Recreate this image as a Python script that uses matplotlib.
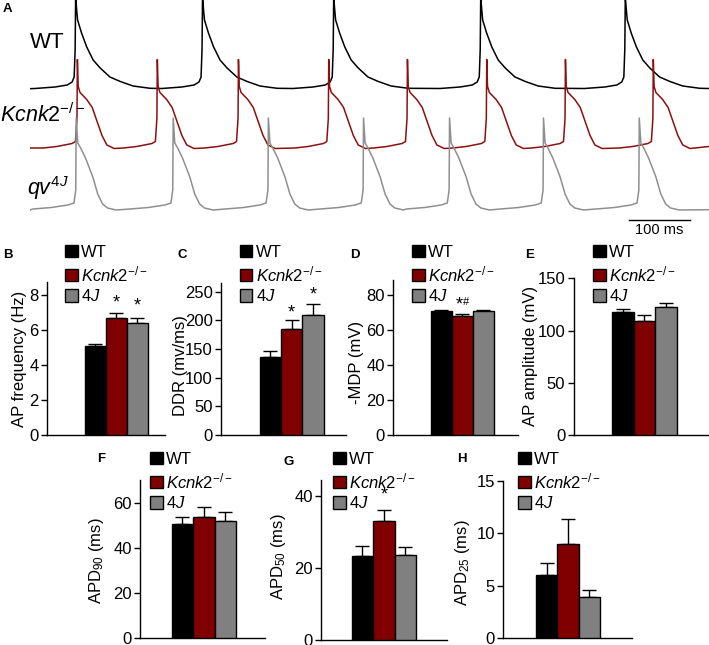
import numpy as np
import matplotlib.pyplot as plt
from matplotlib.patches import Patch

plt.rcParams['font.family'] = ['Liberation Sans', 'DejaVu Sans']
plt.rcParams['mathtext.fontset'] = 'custom'
plt.rcParams['mathtext.rm'] = 'Liberation Sans'
plt.rcParams['mathtext.it'] = 'Liberation Sans:italic'
plt.rcParams['mathtext.bf'] = 'Liberation Sans:bold'

# ---------------- A: action potential traces ----------------
# time in ms, voltage in mV above the maximum diastolic potential
trace_len = 1113
wt_spikes = [74, 282, 497, 738, 975]
ko_spikes = [77, 208, 341, 489, 618, 748, 877, 1021]
qv_spikes = [75, 234, 390, 546, 687, 841, 998]

wt_beat_t = [-66, -33, -13, -5, -1.6, 0, 0.8, 2.5, 4, 10.5, 19, 29.5, 41, 57, 74, 95, 123]
wt_beat_v = [0.5, 2, 4, 7, 12, 40, 92, 79, 69, 56, 42, 29, 21, 12, 7.5, 3, 0.7]
ko_beat_t = [-55, -33, -8, -2.5, 0, 0.7, 2, 5, 16, 25, 33, 41, 49, 61]
ko_beat_v = [0.5, 2, 5, 7, 30, 89, 62, 56, 49, 41, 27, 13, 3.5, 0]
qv_beat_t = [-70, -40, -13, -3, 0, 0.7, 3.3, 8, 16, 28, 36, 44, 52, 66]
qv_beat_v = [1, 2.5, 5, 7, 20, 92, 67, 62, 52, 33, 16, 6, 2, 0]

wt_ends = [0.3, 0.5]
ko_ends = [0.5, 2]
qv_ends = [0, 0.3]

# ---------------- B-H: summary bars ----------------
groups = ['WT', r'$\mathit{Kcnk2}^{\mathit{-/-}}$', r'$\mathit{4J}$']
colors = ['black', '#800000', '#808080']

ap_freq = [5.1, 6.7, 6.4]
ap_freq_err = [0.12, 0.25, 0.3]
ddr = [136, 185, 210]
ddr_err = [10, 15, 19]
mdp = [70.9, 68.0, 70.8]
mdp_err = [0.8, 1.3, 0.6]
ap_amp = [117.5, 109, 123]
ap_amp_err = [3.2, 6, 3.4]
apd90 = [50.4, 53.5, 51.6]
apd90_err = [3.1, 4.5, 4.1]
apd50 = [23.3, 33.0, 23.7]
apd50_err = [2.9, 3.3, 2.1]
apd25 = [6.0, 9.0, 3.9]
apd25_err = [1.2, 2.35, 0.65]

W, H = 709, 645
fig = plt.figure(figsize=(W / 100, H / 100), dpi=100)


def fx(x):
    return x / W


def fy(y):
    return 1 - y / H


def axes_px(x0, y0, x1, y1):
    return fig.add_axes([fx(x0), fy(y1), (x1 - x0) / W, (y1 - y0) / H])


def build_trace(spikes, bt, bv, ends):
    t = [0.0]
    v = [ends[0]]
    for s in spikes:
        t += [s + dt for dt in bt]
        v += bv
    t.append(trace_len)
    v.append(ends[1])
    return np.array(t), np.array(v)


axA = axes_px(30, 0, 709, 235)
axA.set_xlim(0, trace_len)
axA.set_ylim(-235, 0)
axA.axis('off')
for spikes, bt, bv, ends, off, col in [
        (wt_spikes, wt_beat_t, wt_beat_v, wt_ends, -89, 'black'),
        (ko_spikes, ko_beat_t, ko_beat_v, ko_ends, -148.5, '#8b1010'),
        (qv_spikes, qv_beat_t, qv_beat_v, qv_ends, -210, '#8f8f8f')]:
    t, v = build_trace(spikes, bt, bv, ends)
    axA.plot(t, v + off, color=col, lw=1.1, clip_on=True)

# scale bar 100 ms
axA.plot([982, 1082], [-220, -220], color='black', lw=1, clip_on=False)
axA.text(1032, -223, '100 ms', ha='center', va='top', fontsize=10.5)

fig.text(fx(47), fy(43), 'WT', ha='center', va='center', fontsize=16)
fig.text(fx(0), fy(115), r'$\mathit{Kcnk2}^{\mathit{-/-}}$', ha='left', va='center', fontsize=15.5)
fig.text(fx(27), fy(188), r'$\mathit{qv}^{\mathit{4J}}$', ha='left', va='center', fontsize=15.5)

# panel letters
for lab, x, y in [('A', 3, 9), ('B', 3, 255), ('C', 178, 255), ('D', 350, 255), ('E', 525, 255),
                  ('F', 97, 459), ('G', 283, 462), ('H', 457, 459)]:
    fig.text(fx(x), fy(y), lab, fontsize=9.5, fontweight='bold', ha='left', va='center')

panels = [
    # values, errors, ylabel, axes px, bars px, ylim top, ticks, label centre, legend corner
    (ap_freq, ap_freq_err, 'AP frequency (Hz)', (47, 282, 165, 435), (85, 148), 8.75,
     [0, 2, 4, 6, 8], (20, 359), (65, 245)),
    (ddr, ddr_err, 'DDR (mv/ms)', (221, 283, 346, 435), (259.5, 323.5), 265,
     [0, 50, 100, 150, 200, 250], (180, 366), (240, 245)),
    (mdp, mdp_err, '-MDP (mV)', (393, 280, 518, 435), (430.5, 494), 88.6,
     [0, 20, 40, 60, 80], (356, 362), (412, 245)),
    (ap_amp, ap_amp_err, 'AP amplitude (mV)', (573.5, 278.3, 709, 435), (612, 676.5), 150,
     [0, 50, 100, 150], (530, 356), (593, 245)),
    (apd90, apd90_err, r'APD$_{\mathregular{90}}$ (ms)', (140, 480, 265, 637.7), (171.7, 236), 70,
     [0, 20, 40, 60], (97, 561), (150, 452)),
    (apd50, apd50_err, r'APD$_{\mathregular{50}}$ (ms)', (321, 480, 447, 639.5), (351.7, 416), 44.6,
     [0, 20, 40], (278, 557), (333, 452)),
    (apd25, apd25_err, r'APD$_{\mathregular{25}}$ (ms)', (503.3, 480.7, 631.7, 638.3), (536, 600), 15,
     [0, 5, 10, 15], (463, 563), (518, 452)),
]

handles = [Patch(facecolor=c, edgecolor='black', lw=1) for c in colors]
axes = []
for vals, errs, ylab, apx, bpx, ytop, ticks, lab_c, leg_c in panels:
    ax = axes_px(*apx)
    unit = (bpx[1] - bpx[0]) / 3
    ax.set_xlim(-0.5 - (bpx[0] - apx[0]) / unit, 2.5 + (apx[2] - bpx[1]) / unit)
    ax.set_ylim(0, ytop)
    ax.bar(range(3), vals, width=1, color=colors, edgecolor='black', lw=1, zorder=3)
    ax.errorbar(range(3), vals, yerr=[[0, 0, 0], errs], fmt='none', ecolor='black',
                elinewidth=1, capsize=5, capthick=1, zorder=2)
    ax.set_yticks(ticks)
    ax.set_xticks([])
    ax.tick_params(axis='y', labelsize=12, length=4, width=1, direction='out', pad=2)
    for s in ['top', 'right']:
        ax.spines[s].set_visible(False)
    for s in ['left', 'bottom']:
        ax.spines[s].set_linewidth(1)
    fig.text(fx(lab_c[0]), fy(lab_c[1]), ylab, rotation=90, ha='center', va='center', fontsize=12)
    ax.legend(handles, groups, loc='upper left', bbox_to_anchor=(fx(leg_c[0]), fy(leg_c[1])),
              bbox_transform=fig.transFigure, frameon=False, fontsize=12, handlelength=0.75,
              handleheight=0.75, handletextpad=0.2, labelspacing=0.25, borderpad=0, borderaxespad=0)
    axes.append(ax)

# significance marks
axB, axC, axD, axE, axF, axG, axH = axes
axB.text(1, 7.54, '*', ha='center', va='center', fontsize=13)
axB.text(2, 7.37, '*', ha='center', va='center', fontsize=13)
axC.text(1, 213, '*', ha='center', va='center', fontsize=13)
axC.text(2, 244, '*', ha='center', va='center', fontsize=13)
axD.text(1.05, 74.3, '*', ha='right', va='center', fontsize=13)
axD.text(1.05, 76.0, '#', ha='left', va='center', fontsize=8)
axG.text(1, 40.4, '*', ha='center', va='center', fontsize=13)

fig.savefig('out.png', dpi=100)
